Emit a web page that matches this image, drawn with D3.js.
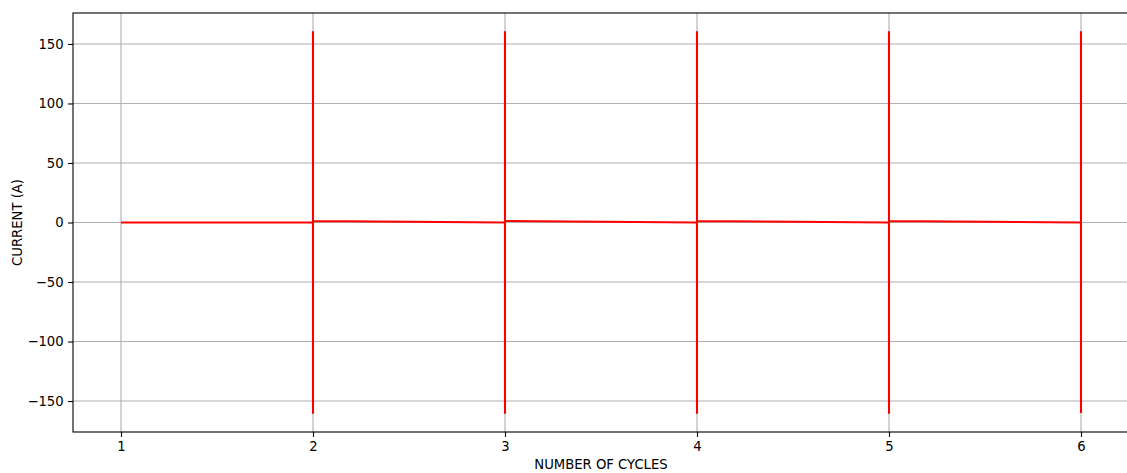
<!DOCTYPE html>
<html>
<head>
<meta charset="utf-8">
<script src="https://cdn.jsdelivr.net/npm/d3@7"></script>
<style>
  html, body { margin: 0; padding: 0; background: #fff; }
  svg { display: block; font-family: "DejaVu Sans", sans-serif; }
</style>
</head>
<body>
<svg id="chart" width="1127" height="473"></svg>
<script>
// Cycle boundaries where the current spikes
const cycles = [1, 2, 3, 4, 5, 6];
// Baseline current at the start of each cycle and at its end (A)
const startLevel = [0, 1.3, 1.3, 1.3, 1.3];
const endLevel = [0, 0, 0, 0, 0];
// Spike extremes at each cycle boundary (A)
const spikeHigh = [160, 160, 160, 160, 160];
const spikeLow = [-160, -160, -160, -160, -160];
// Axis ticks
const xTicks = [1, 2, 3, 4, 5, 6];
const yTicks = [-150, -100, -50, 0, 50, 100, 150];

// Build the trace: slow drift within each cycle, then a full swing at the boundary
const points = [];
for (let i = 0; i < startLevel.length; i++) {
  points.push([cycles[i], startLevel[i]]);
  points.push([cycles[i + 1], endLevel[i]]);
  points.push([cycles[i + 1], spikeHigh[i]]);
  points.push([cycles[i + 1], spikeLow[i]]);
}

const margin = { top: 13, left: 73 };
const plotW = 1056, plotH = 419;
const fontPx = "13.2px";

const svg = d3.select("#chart");
const g = svg.append("g").attr("transform", `translate(${margin.left},${margin.top})`);

const x = d3.scaleLinear().domain([0.75, 6.25]).range([0, plotW]);
const y = d3.scaleLinear().domain([-176, 176]).range([plotH, 0]);

// Grid
g.append("g").selectAll("line").data(xTicks).join("line")
  .attr("x1", d => x(d)).attr("x2", d => x(d))
  .attr("y1", 0).attr("y2", plotH)
  .attr("stroke", "#b0b0b0").attr("stroke-width", 1.1);
g.append("g").selectAll("line").data(yTicks).join("line")
  .attr("x1", 0).attr("x2", plotW)
  .attr("y1", d => y(d)).attr("y2", d => y(d))
  .attr("stroke", "#b0b0b0").attr("stroke-width", 1.1);

// Trace
g.append("path")
  .datum(points)
  .attr("fill", "none")
  .attr("stroke", "#ff0000")
  .attr("stroke-width", 2.1)
  .attr("stroke-linejoin", "round")
  .attr("d", d3.line().x(d => x(d[0])).y(d => y(d[1])));

// Axes (ticks and labels only; spines drawn separately)
const fmt = d => (d < 0 ? "\u2212" + Math.abs(d) : String(d));
const xAxis = g.append("g").attr("transform", `translate(0,${plotH})`)
  .call(d3.axisBottom(x).tickValues(xTicks).tickFormat(fmt).tickSizeOuter(0).tickSize(4.9).tickPadding(4.5));
const yAxis = g.append("g")
  .call(d3.axisLeft(y).tickValues(yTicks).tickFormat(fmt).tickSizeOuter(0).tickSize(4.9).tickPadding(4.5));
[xAxis, yAxis].forEach(a => {
  a.select(".domain").remove();
  a.selectAll(".tick line").attr("stroke", "#000").attr("stroke-width", 1.1);
  a.selectAll(".tick text").attr("fill", "#000").style("font-size", fontPx).style("font-family", "DejaVu Sans, sans-serif");
});

// Spines
g.append("rect")
  .attr("x", 0).attr("y", 0).attr("width", plotW).attr("height", plotH)
  .attr("fill", "none").attr("stroke", "#000").attr("stroke-width", 1.1);

// Axis titles
svg.append("text")
  .attr("x", margin.left + plotW / 2).attr("y", 469)
  .attr("text-anchor", "middle")
  .style("font-size", fontPx)
  .text("NUMBER OF CYCLES");
svg.append("text")
  .attr("transform", `translate(22,${margin.top + y(0)}) rotate(-90)`)
  .attr("text-anchor", "middle")
  .style("font-size", fontPx)
  .text("CURRENT (A)");
</script>
</body>
</html>
